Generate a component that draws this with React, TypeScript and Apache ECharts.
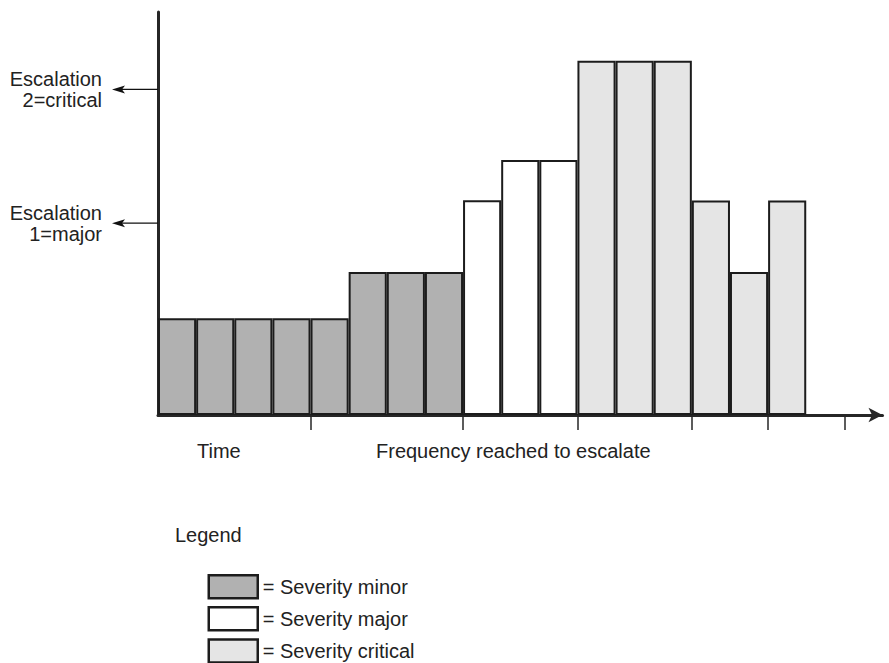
import React, { useEffect, useRef } from 'react';
import * as echarts from 'echarts';

const FONT = '"Liberation Sans", Arial, Helvetica, sans-serif';

// 19 time slots on the x axis (the last two are empty)
const categories = ['t1', 't2', 't3', 't4', 't5', 't6', 't7', 't8', 't9', 't10', 't11', 't12', 't13', 't14', 't15', 't16', 't17', 't18', 't19'];

// Frequency per time slot, split by severity (null = slot belongs to another severity)
const minorValues = [24, 24, 24, 24, 24, 35.5, 35.5, 35.5, null, null, null, null, null, null, null, null, null, null, null];
const majorValues = [null, null, null, null, null, null, null, null, 53.3, 63.3, 63.3, null, null, null, null, null, null, null, null];
const criticalValues = [null, null, null, null, null, null, null, null, null, null, null, 87.9, 87.9, 87.9, 53.2, 35.5, 53.2, null, null];

const seriesNames = ['Severity minor', 'Severity major', 'Severity critical'];
const seriesColors = ['#b1b1b1', '#ffffff', '#e5e5e5'];

// Escalation thresholds on the y axis
const escalationLevels = [47.6, 80.8];
const escalationLabels = ['Escalation\n1=major', 'Escalation\n2=critical'];

// Tick marks on the time axis (slot boundaries)
const tickPositions = [4, 8, 11, 14, 16, 18];

const axisTitles = ['Time', 'Frequency reached to escalate'];
const legendTitle = 'Legend';

export default function App() {
  const ref = useRef<HTMLDivElement>(null);

  useEffect(() => {
    if (!ref.current) return;
    const chart = echarts.init(ref.current, undefined, { renderer: 'svg' });
    const valueSets = [minorValues, majorValues, criticalValues];

    const barSeries = seriesNames.map((name, i) => ({
      name,
      type: 'bar',
      xAxisIndex: 0,
      yAxisIndex: 0,
      stack: 'severity',
      barWidth: '100%',
      barCategoryGap: '0%',
      data: valueSets[i],
      itemStyle: { color: seriesColors[i], borderColor: '#1c1c1c', borderWidth: 2 },
      emphasis: { disabled: true },
    }));

    const option: any = {
      animation: false,
      backgroundColor: '#ffffff',
      textStyle: { fontFamily: FONT },
      grid: { left: 158, right: 6.5, top: 12, bottom: 248, containLabel: false },
      xAxis: [
        {
          type: 'category',
          data: categories,
          boundaryGap: true,
          axisLine: {
            show: true,
            lineStyle: { color: '#262626', width: 3 },
            symbol: ['none', 'arrow'],
            symbolSize: [11, 14],
          },
          axisTick: { show: false },
          axisLabel: { show: false },
          splitLine: { show: false },
        },
        {
          type: 'value',
          min: 0,
          max: 19,
          position: 'bottom',
          axisLine: { show: false },
          axisTick: {
            show: true,
            customValues: tickPositions,
            length: 15,
            lineStyle: { color: '#262626', width: 1.5 },
          },
          axisLabel: { show: false },
          splitLine: { show: false },
        },
      ],
      yAxis: {
        type: 'value',
        min: 0,
        max: 100,
        axisLine: { show: true, lineStyle: { color: '#262626', width: 3 } },
        axisTick: { show: false },
        axisLabel: { show: false },
        splitLine: { show: false },
      },
      legend: {
        data: seriesNames,
        orient: 'vertical',
        left: 207.5,
        top: 574,
        height: 140,
        padding: 0,
        icon: 'rect',
        itemWidth: 49,
        itemHeight: 23,
        itemGap: 6.6,
        selectedMode: false,
        formatter: '= {name}',
        itemStyle: { borderColor: '#1c1c1c', borderWidth: 2.5 },
        textStyle: { fontSize: 20, lineHeight: 20, color: '#222222', fontFamily: FONT },
      },
      graphic: [
        { type: 'text', left: 197, top: 441, style: { text: axisTitles[0], fontSize: 20, fontFamily: FONT, fill: '#222222' } },
        { type: 'text', left: 376, top: 441, style: { text: axisTitles[1], fontSize: 20, fontFamily: FONT, fill: '#222222' } },
        { type: 'text', left: 175, top: 525, style: { text: legendTitle, fontSize: 20, fontFamily: FONT, fill: '#222222' } },
      ],
      series: [
        ...barSeries,
        {
          type: 'custom',
          name: 'escalation',
          xAxisIndex: 0,
          yAxisIndex: 0,
          clip: false,
          data: escalationLevels.map((v) => [0, v]),
          renderItem: (params: any, api: any) => {
            const y = api.coord([0, api.value(1)])[1];
            const x0 = params.coordSys.x;
            const tipX = x0 - 46;
            return {
              type: 'group',
              children: [
                { type: 'line', shape: { x1: x0, y1: y, x2: tipX + 8, y2: y }, style: { stroke: '#111111', lineWidth: 1.3 } },
                {
                  type: 'polygon',
                  shape: { points: [[tipX, y], [tipX + 13, y - 4], [tipX + 10, y], [tipX + 13, y + 4]] },
                  style: { fill: '#111111' },
                },
                {
                  type: 'text',
                  x: tipX - 10,
                  y: y,
                  style: {
                    text: escalationLabels[params.dataIndex],
                    fontSize: 20,
                    fontFamily: FONT,
                    fill: '#222222',
                    align: 'right',
                    verticalAlign: 'middle',
                    lineHeight: 21,
                  },
                },
              ],
            };
          },
        },
      ],
    };

    chart.setOption(option);
    return () => chart.dispose();
  }, []);

  return <div ref={ref} style={{ position: 'absolute', left: 0, top: 0, width: 889, height: 663 }} />;
}
